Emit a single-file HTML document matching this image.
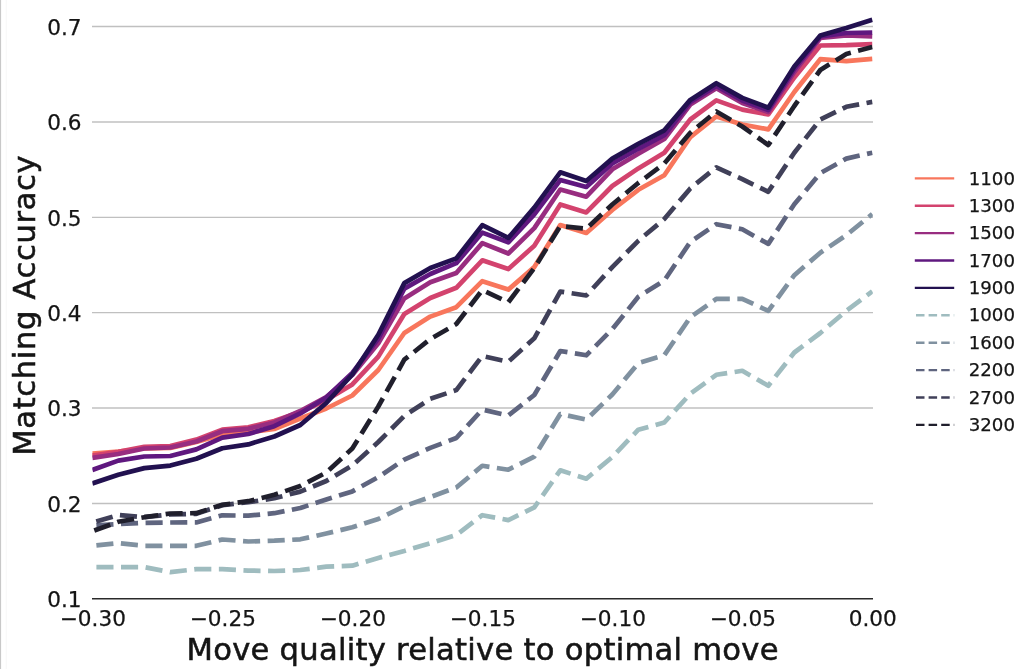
<!DOCTYPE html>
<html lang="en">
<head>
<meta charset="utf-8">
<title>Matching Accuracy vs Move quality</title>
<style>
html,body{margin:0;padding:0;background:#fff;}
body{width:1024px;height:669px;overflow:hidden;position:relative;}
svg{display:block;position:absolute;left:0;top:0;}
text{font-family:"DejaVu Sans","Liberation Sans",sans-serif;fill:#151515;stroke:#151515;stroke-width:0.25px;}
.tick{font-size:21.6px;}
.leg{font-size:18.2px;}
.lab{font-size:30.6px;stroke-width:0.55px;}
.grid{stroke:#c0c0c0;stroke-width:1.4;fill:none;}
.s{fill:none;stroke-width:4.7;stroke-linejoin:round;stroke-linecap:butt;}
.d{fill:none;stroke-width:4.7;stroke-linejoin:round;stroke-linecap:butt;stroke-dasharray:17.1 7.52;stroke-dashoffset:-4.1;}
.ls{fill:none;stroke-width:2.4;}
.ld{fill:none;stroke-width:2.4;stroke-dasharray:8.5 4.1;}
</style>
</head>
<body>
<svg width="1024" height="669" viewBox="0 0 1024 669">
<rect x="0" y="0" width="1024" height="669" fill="#ffffff"/>
<rect x="0" y="0" width="1.1" height="669" fill="#c8c8c8"/>
<rect x="5.6" y="0" width="1.3" height="669" fill="#f9f9f9"/>
<defs><clipPath id="ax"><rect x="92.3" y="0" width="780.5" height="598.7"/></clipPath></defs>

<g class="grid">
<line x1="92" x2="873" y1="26.55" y2="26.55"/>
<line x1="92" x2="873" y1="121.95" y2="121.95"/>
<line x1="92" x2="873" y1="217.35" y2="217.35"/>
<line x1="92" x2="873" y1="312.65" y2="312.65"/>
<line x1="92" x2="873" y1="408.05" y2="408.05"/>
<line x1="92" x2="873" y1="503.45" y2="503.45"/>
</g>
<g clip-path="url(#ax)">
<polyline class="s" stroke="#f8765c" points="92.3,453.5 118.3,451.5 144.3,448.5 170.3,448.0 196.3,442.0 222.3,434.5 248.3,432.5 274.3,429.0 300.3,418.5 326.3,408.5 352.3,395.5 378.3,370.0 404.3,333.0 430.3,316.6 456.3,307.2 482.3,281.2 508.3,289.6 534.3,267.1 560.3,225.1 586.3,233.0 612.3,210.0 638.3,189.8 664.3,175.2 690.3,137.1 716.3,116.5 742.3,124.5 768.3,129.4 794.3,92.0 820.3,59.2 846.3,61.2 872.3,58.8"/>
<polyline class="s" stroke="#d3436e" points="92.3,455.5 118.3,451.8 144.3,446.8 170.3,446.0 196.3,439.6 222.3,429.6 248.3,427.3 274.3,421.0 300.3,412.0 326.3,400.0 352.3,384.4 378.3,356.6 404.3,314.0 430.3,298.0 456.3,287.8 482.3,260.3 508.3,269.1 534.3,245.7 560.3,204.5 586.3,212.4 612.3,186.0 638.3,168.4 664.3,152.7 690.3,119.5 716.3,100.4 742.3,109.6 768.3,114.5 794.3,77.4 820.3,45.5 846.3,45.2 872.3,44.2"/>
<polyline class="s" stroke="#982d80" points="92.3,457.8 118.3,454.0 144.3,448.5 170.3,447.5 196.3,441.5 222.3,431.2 248.3,428.8 274.3,422.5 300.3,411.0 326.3,397.0 352.3,375.0 378.3,343.3 404.3,298.4 430.3,282.3 456.3,273.0 482.3,243.1 508.3,253.5 534.3,228.1 560.3,189.5 586.3,196.7 612.3,169.3 638.3,153.7 664.3,139.0 690.3,104.5 716.3,88.3 742.3,103.0 768.3,112.0 794.3,72.0 820.3,38.0 846.3,35.5 872.3,36.4"/>
<polyline class="s" stroke="#5f187f" points="92.3,470.0 118.3,460.6 144.3,456.5 170.3,456.0 196.3,449.4 222.3,437.7 248.3,434.0 274.3,426.2 300.3,413.4 326.3,397.5 352.3,373.0 378.3,338.6 404.3,288.6 430.3,274.0 456.3,263.2 482.3,232.6 508.3,242.3 534.3,214.4 560.3,180.1 586.3,186.9 612.3,163.5 638.3,148.8 664.3,135.2 690.3,102.0 716.3,86.0 742.3,100.5 768.3,110.0 794.3,69.0 820.3,36.5 846.3,33.0 872.3,32.5"/>
<polyline class="s" stroke="#221150" points="92.3,483.4 118.3,474.8 144.3,468.1 170.3,465.6 196.3,458.8 222.3,448.3 248.3,444.4 274.3,436.5 300.3,425.0 326.3,403.0 352.3,374.5 378.3,334.7 404.3,283.1 430.3,268.0 456.3,258.4 482.3,225.2 508.3,237.9 534.3,207.6 560.3,172.3 586.3,181.0 612.3,158.6 638.3,143.9 664.3,130.3 690.3,99.9 716.3,83.2 742.3,97.9 768.3,107.7 794.3,66.6 820.3,35.4 846.3,28.0 872.3,19.8"/>
<polyline class="d" stroke="#9fbcbf" points="92.3,567.1 118.3,567.1 144.3,567.1 170.3,572.1 196.3,569.2 222.3,569.2 248.3,570.6 274.3,571.0 300.3,570.0 326.3,566.7 352.3,565.7 378.3,557.9 404.3,551.0 430.3,543.2 456.3,535.0 482.3,515.2 508.3,520.1 534.3,507.4 560.3,470.3 586.3,478.7 612.3,457.0 638.3,429.7 664.3,422.5 690.3,393.8 716.3,374.8 742.3,370.8 768.3,385.7 794.3,352.5 820.3,333.0 846.3,310.9 872.3,291.4"/>
<polyline class="d" stroke="#8091a0" points="92.3,545.8 118.3,543.2 144.3,545.8 170.3,545.8 196.3,545.8 222.3,539.5 248.3,541.5 274.3,540.7 300.3,539.3 326.3,533.5 352.3,527.3 378.3,519.0 404.3,506.2 430.3,497.0 456.3,487.5 482.3,465.8 508.3,469.7 534.3,456.6 560.3,414.0 586.3,419.6 612.3,394.5 638.3,363.2 664.3,355.2 690.3,317.3 716.3,298.9 742.3,298.9 768.3,310.9 794.3,275.2 820.3,252.7 846.3,235.2 872.3,214.0"/>
<polyline class="d" stroke="#5f657f" points="92.3,525.5 118.3,524.0 144.3,522.8 170.3,522.5 196.3,522.4 222.3,515.3 248.3,515.7 274.3,513.2 300.3,508.0 326.3,499.6 352.3,491.4 378.3,477.1 404.3,459.6 430.3,447.9 456.3,438.0 482.3,409.6 508.3,415.5 534.3,395.0 560.3,351.0 586.3,355.3 612.3,329.2 638.3,296.8 664.3,280.5 690.3,242.0 716.3,224.2 742.3,229.3 768.3,243.9 794.3,204.2 820.3,173.2 846.3,158.6 872.3,152.7"/>
<polyline class="d" stroke="#404059" points="92.3,522.6 118.3,515.0 144.3,517.2 170.3,514.4 196.3,513.8 222.3,505.2 248.3,502.2 274.3,498.3 300.3,491.6 326.3,481.0 352.3,465.4 378.3,442.0 404.3,415.9 430.3,398.8 456.3,390.1 482.3,355.9 508.3,361.8 534.3,338.3 560.3,291.6 586.3,295.5 612.3,267.1 638.3,240.8 664.3,219.0 690.3,188.4 716.3,167.4 742.3,179.1 768.3,191.8 794.3,152.7 820.3,119.5 846.3,106.8 872.3,101.9"/>
<polyline class="d" stroke="#201f2c" style="stroke-dasharray:17.02 7.48;stroke-dashoffset:-2.1" points="92.3,531.2 118.3,521.8 144.3,517.2 170.3,513.5 196.3,513.2 222.3,504.8 248.3,501.2 274.3,494.8 300.3,486.0 326.3,472.5 352.3,448.5 378.3,406.5 404.3,359.7 430.3,339.0 456.3,324.0 482.3,290.0 508.3,302.3 534.3,268.1 560.3,226.1 586.3,228.7 612.3,204.5 638.3,183.0 664.3,163.5 690.3,132.7 716.3,111.5 742.3,126.5 768.3,145.0 794.3,106.0 820.3,70.0 846.3,53.9 872.3,47.1"/>
</g>
<line x1="92" x2="873" y1="598.75" y2="598.75" stroke="#2a2a2a" stroke-width="1.6"/>
<text class="tick" x="81.6" y="34.8" text-anchor="end">0.7</text>
<text class="tick" x="81.6" y="130.2" text-anchor="end">0.6</text>
<text class="tick" x="81.6" y="225.6" text-anchor="end">0.5</text>
<text class="tick" x="81.6" y="320.9" text-anchor="end">0.4</text>
<text class="tick" x="81.6" y="416.3" text-anchor="end">0.3</text>
<text class="tick" x="81.6" y="511.7" text-anchor="end">0.2</text>
<text class="tick" x="81.6" y="607.1" text-anchor="end">0.1</text>
<text class="tick" x="92.8" y="625.8" text-anchor="middle">−0.30</text>
<text class="tick" x="222.8" y="625.8" text-anchor="middle">−0.25</text>
<text class="tick" x="352.8" y="625.8" text-anchor="middle">−0.20</text>
<text class="tick" x="482.8" y="625.8" text-anchor="middle">−0.15</text>
<text class="tick" x="612.8" y="625.8" text-anchor="middle">−0.10</text>
<text class="tick" x="742.8" y="625.8" text-anchor="middle">−0.05</text>
<text class="tick" x="872.8" y="625.8" text-anchor="middle">0.00</text>
<text class="lab" x="186.5" y="660.2" textLength="592" lengthAdjust="spacing">Move quality relative to optimal move</text>
<text class="lab" transform="translate(35.4,455.8) rotate(-90)" textLength="300.5" lengthAdjust="spacing">Matching Accuracy</text>
<line class="ls" stroke="#f8765c" x1="914.8" x2="954.2" y1="178.4" y2="178.4"/>
<text class="leg" x="968.7" y="184.5">1100</text>
<line class="ls" stroke="#d3436e" x1="914.8" x2="954.2" y1="205.7" y2="205.7"/>
<text class="leg" x="968.7" y="211.8">1300</text>
<line class="ls" stroke="#982d80" x1="914.8" x2="954.2" y1="233.1" y2="233.1"/>
<text class="leg" x="968.7" y="239.2">1500</text>
<line class="ls" stroke="#5f187f" x1="914.8" x2="954.2" y1="260.5" y2="260.5"/>
<text class="leg" x="968.7" y="266.6">1700</text>
<line class="ls" stroke="#221150" x1="914.8" x2="954.2" y1="287.9" y2="287.9"/>
<text class="leg" x="968.7" y="293.9">1900</text>
<line class="ld" stroke="#9fbcbf" x1="916.0" x2="954.2" y1="315.3" y2="315.3"/>
<text class="leg" x="968.7" y="321.4">1000</text>
<line class="ld" stroke="#8091a0" x1="916.0" x2="954.2" y1="342.7" y2="342.7"/>
<text class="leg" x="968.7" y="348.8">1600</text>
<line class="ld" stroke="#5f657f" x1="916.0" x2="954.2" y1="370.1" y2="370.1"/>
<text class="leg" x="968.7" y="376.2">2200</text>
<line class="ld" stroke="#404059" x1="916.0" x2="954.2" y1="397.5" y2="397.5"/>
<text class="leg" x="968.7" y="403.6">2700</text>
<line class="ld" stroke="#201f2c" x1="916.0" x2="954.2" y1="424.9" y2="424.9"/>
<text class="leg" x="968.7" y="430.9">3200</text>
</svg>
</body>
</html>
